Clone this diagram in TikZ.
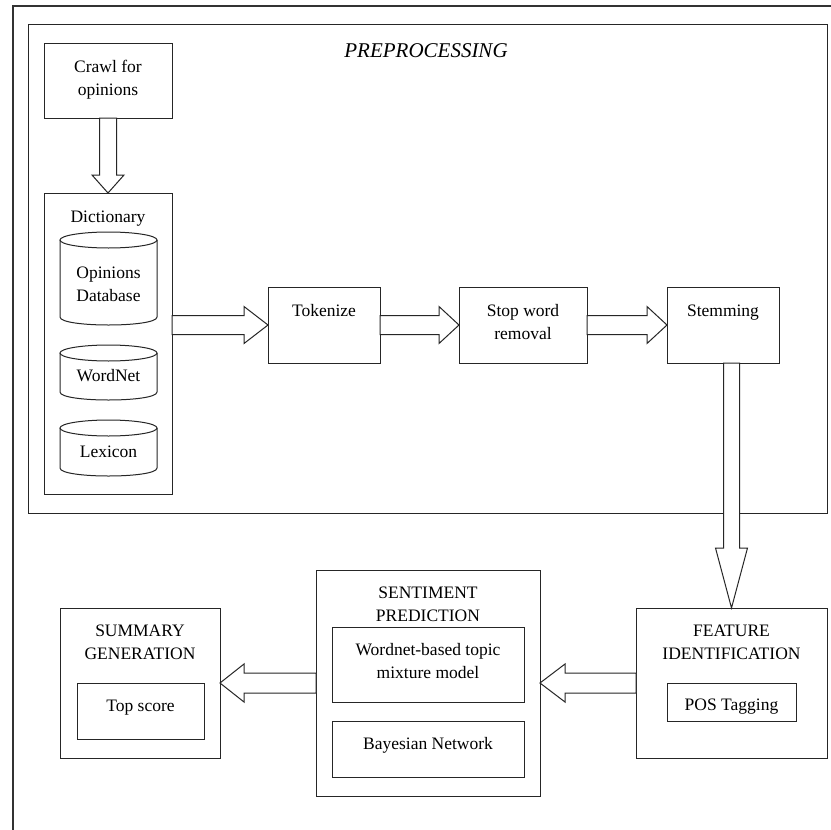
\documentclass[tikz,border=0pt]{standalone}
\usepackage{fontspec}
\setmainfont{Liberation Serif}
\usetikzlibrary{calc}
\tikzset{
  ln/.style={draw=black!85, line width=1pt},
  box/.style={ln, rectangle, inner sep=0pt, outer sep=0pt, anchor=north west, fill=white},
  txt/.style={inner sep=0pt, outer sep=0pt, align=center, anchor=base, font=\fontsize{17.5}{23}\selectfont},
  barrow/.style={ln, fill=white, line join=miter},
}
\newcommand{\arrR}[5]{\draw[barrow] ($(#1)+(0,-#3)$) -- ($(#2)+(-#5,-#3)$) -- ($(#2)+(-#5,-#4)$) -- (#2) -- ($(#2)+(-#5,#4)$) -- ($(#2)+(-#5,#3)$) -- ($(#1)+(0,#3)$) -- cycle;}
\newcommand{\arrL}[5]{\draw[barrow] ($(#1)+(0,-#3)$) -- ($(#2)+(#5,-#3)$) -- ($(#2)+(#5,-#4)$) -- (#2) -- ($(#2)+(#5,#4)$) -- ($(#2)+(#5,#3)$) -- ($(#1)+(0,#3)$) -- cycle;}
\newcommand{\arrD}[5]{\draw[barrow] ($(#1)+(-#3,0)$) -- ($(#2)+(-#3,-#5)$) -- ($(#2)+(-#4,-#5)$) -- (#2) -- ($(#2)+(#4,-#5)$) -- ($(#2)+(#3,-#5)$) -- ($(#1)+(#3,0)$) -- cycle;}
\newcommand{\dbcyl}[4]{%
  \draw[ln, fill=white] ({#1},{#3+8}) -- ({#1},{#4-8}) .. controls ({#1},{#4+2.67}) and ({#2},{#4+2.67}) .. ({#2},{#4-8}) -- ({#2},{#3+8});
  \draw[ln] ({(#1+#2)/2},{#3+8}) ellipse [x radius={(#2-#1)/2}, y radius=8];}
\begin{document}
\begin{tikzpicture}[x=1pt, y=-1pt]
\useasboundingbox (0,0) rectangle (831,830);
\fill[white] (0,0) rectangle (831,830);
% outer frame
\draw[draw=black!80, line width=1.3pt] (835,6) -- (13,6) -- (13,835);
% preprocessing box
\node[box, minimum width=799pt, minimum height=489pt] (prep) at (28,24) {};
\node[txt, font=\fontsize{21}{25}\selectfont\itshape] (tprep) at (426,57) {PREPROCESSING};
% boxes
\node[box, minimum width=128pt, minimum height=75pt] (crawl) at (44,43) {};
\node[box, minimum width=128pt, minimum height=301pt] (dict) at (44,193) {};
\node[box, minimum width=112pt, minimum height=76pt] (tok) at (268,287) {};
\node[box, minimum width=128pt, minimum height=76pt] (stop) at (459,287) {};
\node[box, minimum width=112pt, minimum height=76pt] (stem) at (667,287) {};
\node[box, minimum width=191pt, minimum height=150pt] (feat) at (636,608) {};
\node[box, minimum width=129pt, minimum height=38pt] (pos) at (667,683) {};
\node[box, minimum width=224pt, minimum height=226pt] (sent) at (316,570) {};
\node[box, minimum width=192pt, minimum height=75pt] (wnb) at (332,627) {};
\node[box, minimum width=192pt, minimum height=56pt] (bayes) at (332,721) {};
\node[box, minimum width=160pt, minimum height=150pt] (summ) at (60,608) {};
\node[box, minimum width=127pt, minimum height=56pt] (top) at (77,683) {};
% cylinders
\dbcyl{60}{157}{232}{325}
\dbcyl{60}{157}{345}{400}
\dbcyl{60}{157}{420}{476}
% texts (base = last line baseline)
\node[txt] (tcrawl) at (108,95) {Crawl for\\opinions};
\node[txt] (tdict) at (108,222) {Dictionary};
\node[txt] (topdb) at (108.5,301) {Opinions\\Database};
\node[txt] (twn) at (108.5,381) {WordNet};
\node[txt] (tlex) at (108.5,457) {Lexicon};
\node[txt] (ttok) at (324,316) {Tokenize};
\node[txt] (tstop) at (523,339) {Stop word\\removal};
\node[txt] (tstem) at (723,316) {Stemming};
\node[txt] (tfeat) at (731.5,659) {FEATURE\\IDENTIFICATION};
\node[txt] (tpos) at (731.5,710) {POS Tagging};
\node[txt] (tsent) at (428,621) {SENTIMENT\\PREDICTION};
\node[txt] (twnb) at (428,678) {Wordnet-based topic\\mixture model};
\node[txt] (tbayes) at (428,749) {Bayesian Network};
\node[txt] (tsumm) at (140,659) {SUMMARY\\GENERATION};
\node[txt] (ttop) at (140.5,711) {Top score};
% block arrows
\arrD{crawl.south}{dict.north}{8.5}{16}{18}
\arrR{dict.east |- tok.west}{tok.west}{9.5}{18.5}{24}
\arrR{tok.east}{stop.west}{9.5}{18.5}{20}
\arrR{stop.east}{stem.west}{9.5}{18.5}{20}
\arrD{feat.north |- stem.south}{feat.north}{8}{16}{60}
\arrL{feat.west}{sent.east |- feat.west}{10}{19}{25}
\arrL{sent.west |- summ.east}{summ.east}{10}{19}{24}
\end{tikzpicture}
\end{document}
